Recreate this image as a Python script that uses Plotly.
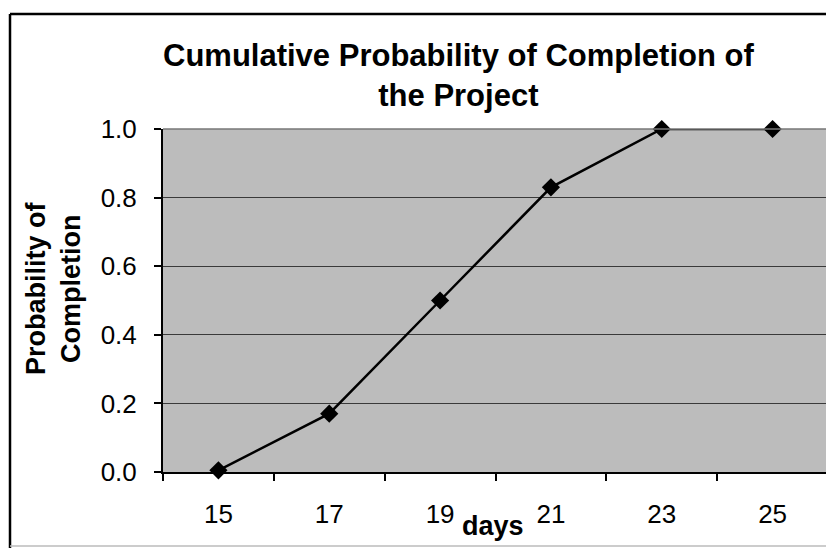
import plotly.graph_objects as go

days = ["15", "17", "19", "21", "23", "25"]
prob = [0.005, 0.17, 0.50, 0.83, 1.0, 1.0]

title_text = "Cumulative Probability of Completion of<br>the Project"
y_title = "Probability of<br>Completion"
x_title = "days"

# page body has an 8px margin; work in page pixels and convert
OFF = 8
W, H = 834 - OFF, 548 - OFF
L, R, T, B = 163 - OFF, 828 - OFF, 129 - OFF, 472 - OFF
pw, ph = R - L, B - T

def px(x):
    return (x - OFF - L) / pw

def py(y):
    return (B - (y - OFF)) / ph

FONT = "Liberation Sans, Arial, sans-serif"

fig = go.Figure()
fig.add_trace(go.Scatter(
    x=days, y=prob, mode="lines+markers",
    line=dict(color="black", width=2.5),
    marker=dict(symbol="diamond", size=14, color="black"),
    showlegend=False, hoverinfo="skip", cliponaxis=False,
))

fig.update_layout(
    width=W, height=H,
    margin=dict(l=L, r=W - R, t=T, b=H - B),
    paper_bgcolor="white",
    plot_bgcolor="#bcbcbc",
    font=dict(family=FONT, color="black", size=26),
    xaxis=dict(
        type="category", range=[-0.5, 5.5], tickson="boundaries",
        ticks="outside", ticklen=7, tickwidth=1.5, tickcolor="black",
        showgrid=False, showline=True, linecolor="black", linewidth=2,
        tickfont=dict(size=26), ticklabelstandoff=18, zeroline=False,
    ),
    yaxis=dict(
        range=[0, 1.0], dtick=0.2, tickformat=".1f",
        ticks="outside", ticklen=7, tickwidth=1.5, tickcolor="black",
        showgrid=True, gridcolor="#3a3a3a", gridwidth=1,
        showline=True, linecolor="black", linewidth=2,
        tickfont=dict(size=26), ticklabelstandoff=12, zeroline=False,
    ),
    shapes=[
        dict(type="line", xref="paper", yref="paper", x0=1, x1=1, y0=0, y1=1,
             line=dict(color="#444444", width=1.5)),
        dict(type="line", xref="paper", yref="paper", x0=0, x1=1, y0=1, y1=1,
             line=dict(color="#777777", width=1.5)),
        dict(type="line", xref="paper", yref="paper", x0=px(10), x1=px(10),
             y0=py(14), y1=py(548), line=dict(color="black", width=2.5)),
        dict(type="line", xref="paper", yref="paper", x0=px(10), x1=px(840),
             y0=py(14), y1=py(14), line=dict(color="black", width=2.5)),
        dict(type="line", xref="paper", yref="paper", x0=px(10), x1=px(840),
             y0=py(546), y1=py(546), line=dict(color="#bbbbbb", width=1.5)),
    ],
    annotations=[
        dict(text="<b>" + title_text + "</b>", xref="paper", yref="paper",
             x=px(458), y=py(76), xanchor="center", yanchor="middle",
             showarrow=False, font=dict(size=31, family=FONT)),
        dict(text="<b>" + x_title + "</b>", xref="paper", yref="paper",
             x=px(493), y=py(526), xanchor="center", yanchor="middle",
             showarrow=False, font=dict(size=27, family=FONT)),
        dict(text="<b>" + y_title + "</b>", xref="paper", yref="paper",
             x=px(53), y=py(288), xanchor="center", yanchor="middle",
             textangle=-90, showarrow=False, font=dict(size=27, family=FONT)),
    ],
)

fig.write_html("out.html")
